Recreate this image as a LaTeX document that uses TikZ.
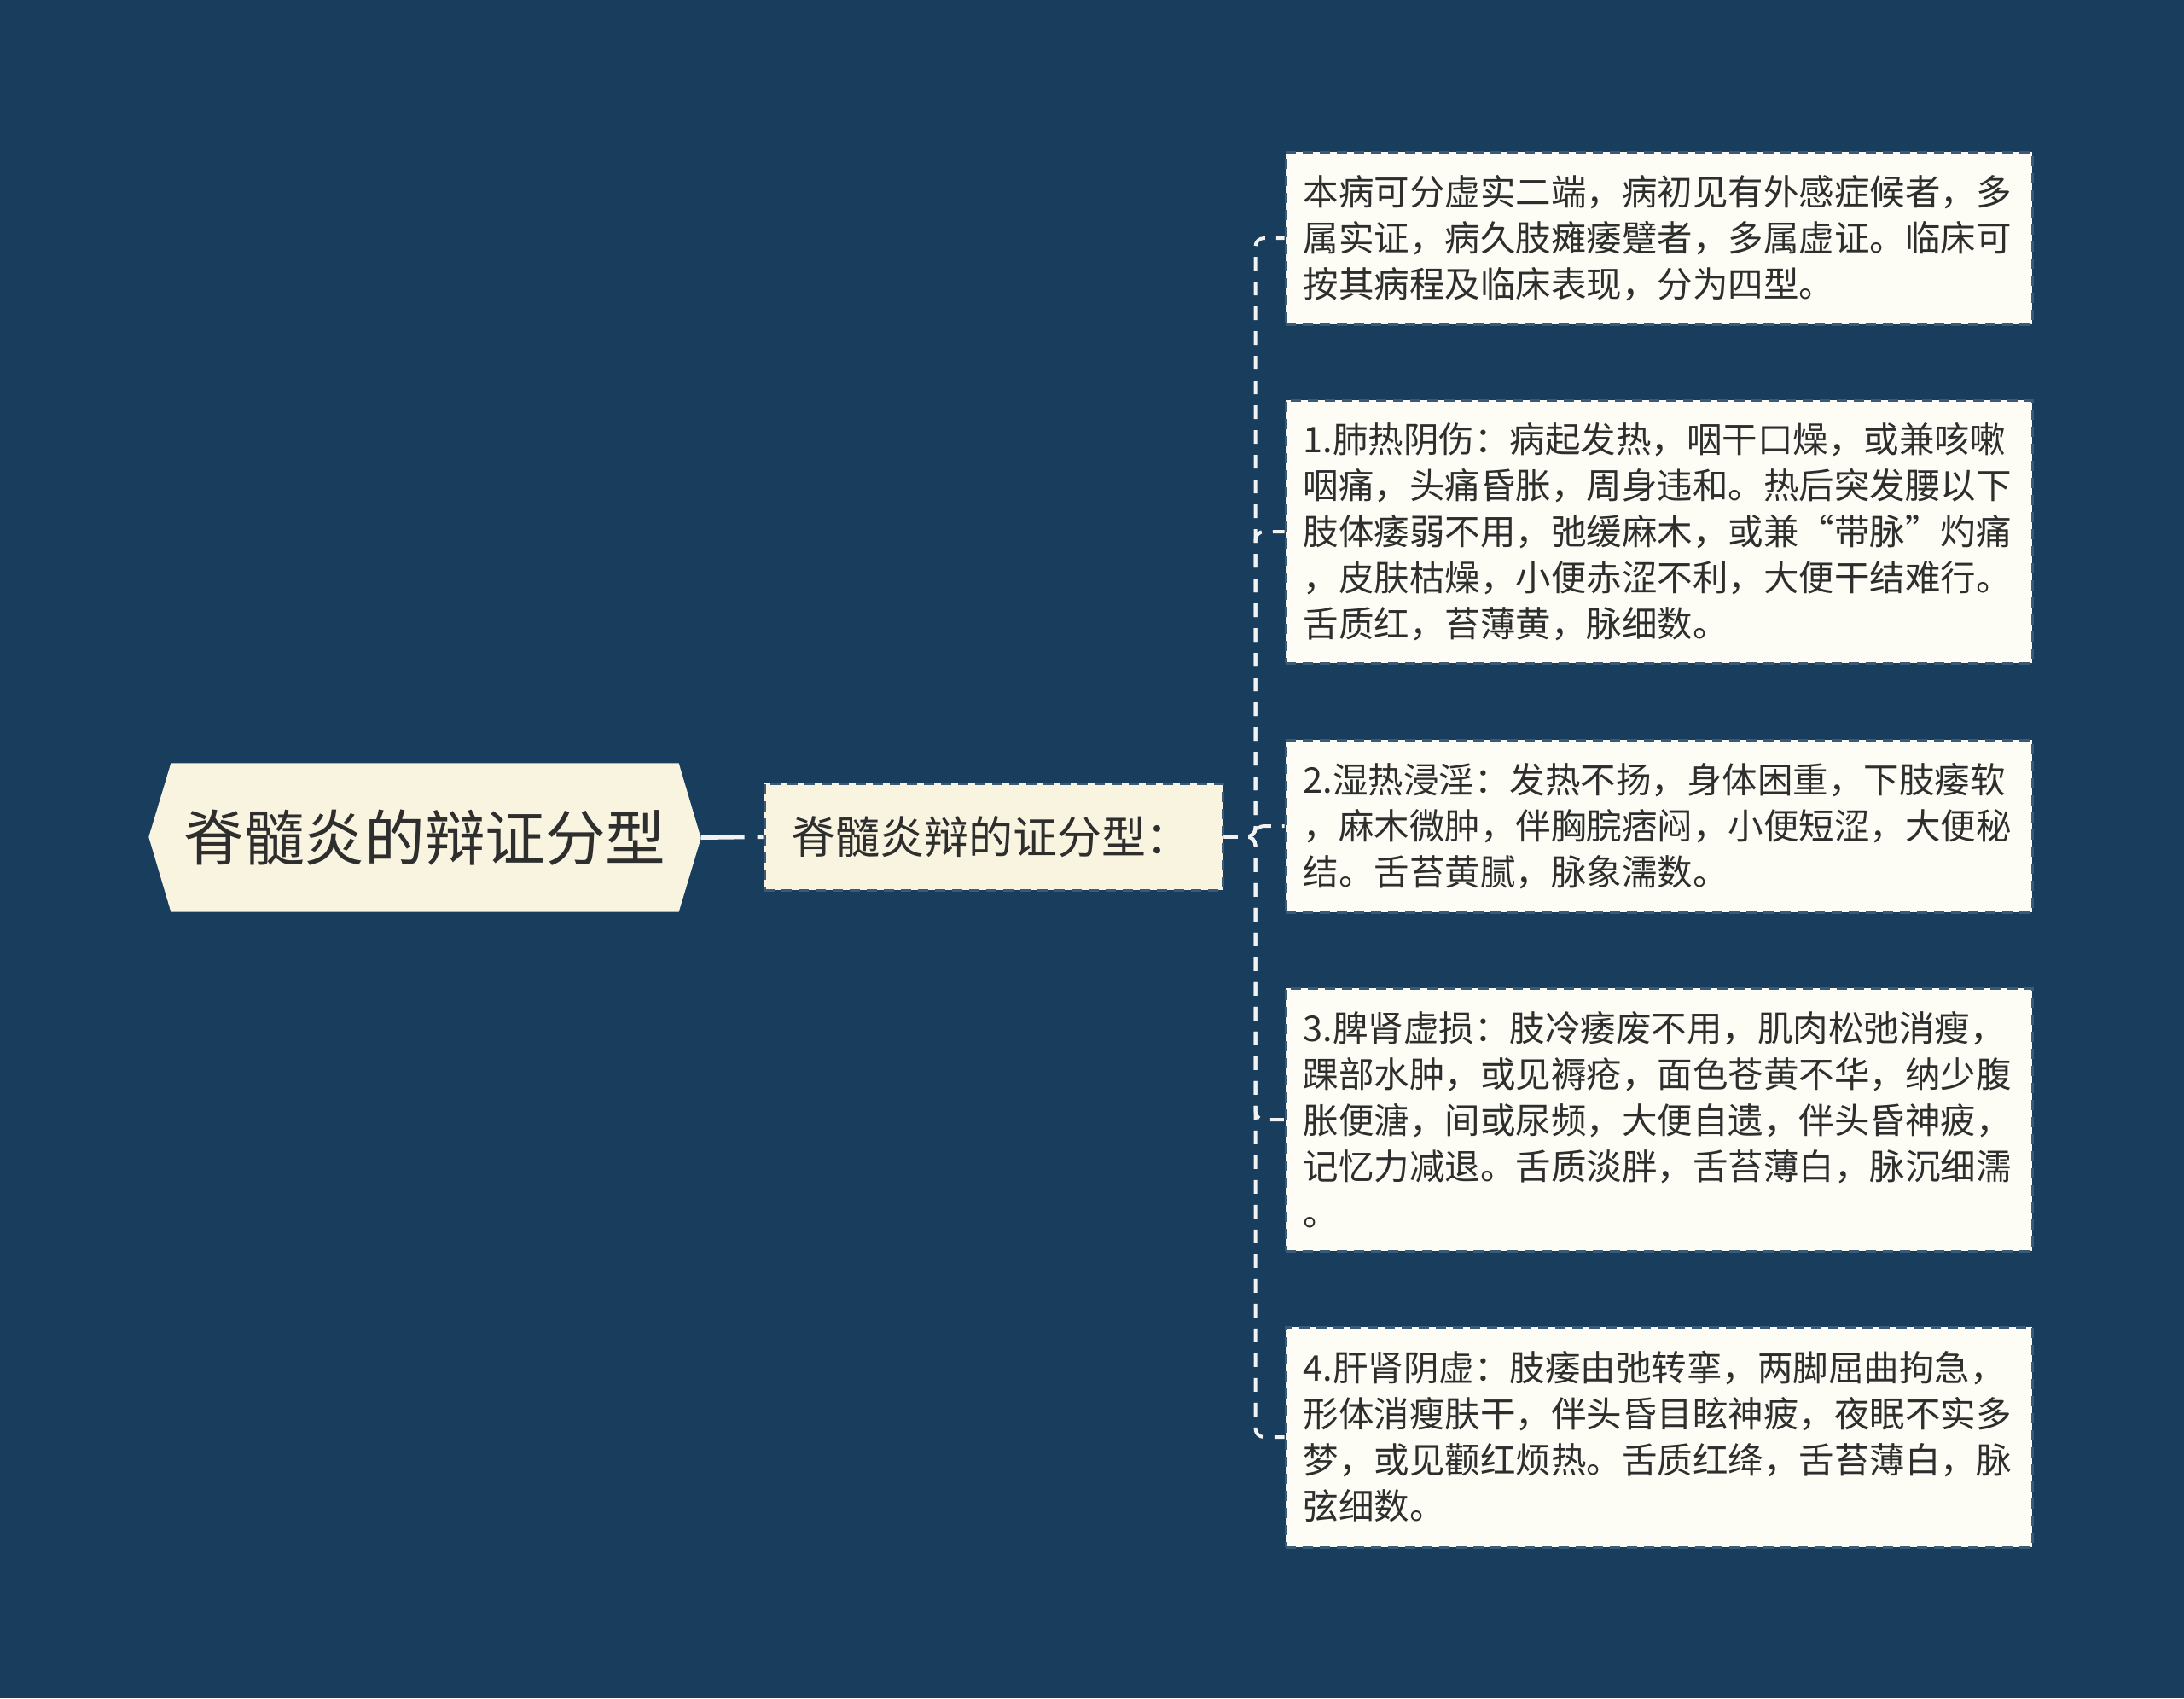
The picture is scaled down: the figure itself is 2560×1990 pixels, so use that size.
\documentclass[tikz,border=0pt]{standalone}
\usepackage{fontspec}
\setmainfont{Noto Sans CJK SC}
\usetikzlibrary{backgrounds}
\definecolor{bgnavy}{HTML}{183D5D}
\definecolor{rootfill}{HTML}{F8F4E0}
\definecolor{boxfill}{HTML}{FDFDF6}
\definecolor{linkgray}{HTML}{F2F2F2}
\definecolor{txtgray}{HTML}{2E2E2E}
\begin{document}
\begin{tikzpicture}[x=0.3pt,y=0.3pt,
  rootnode/.style={text=txtgray,minimum width=178.2pt,minimum height=51.9pt,inner sep=0pt,font=\fontsize{21.2pt}{25pt}\selectfont},
  midnode/.style={fill=rootfill,draw=bgnavy!85!white,dash pattern=on 3.6pt off 2.4pt,line width=0.9pt,text=txtgray,align=left,text width=142.5pt,inner xsep=9.3pt,minimum height=37.5pt,inner ysep=0pt,font=\fontsize{15.6pt}{19pt}\selectfont},
  textbox/.style={fill=boxfill,draw=bgnavy!85!white,dash pattern=on 3.6pt off 2.4pt,line width=0.9pt,text=txtgray,align=left,text width=250pt,inner xsep=6.25pt,inner ysep=0pt,font=\fontsize{12.45pt}{16.2pt}\selectfont},
  rootlink/.style={draw=linkgray,line width=1.5pt,dash pattern=on 15.3pt off 4.5pt},
  link/.style={draw=linkgray,line width=1.2pt,dash pattern=on 4.8pt off 3.9pt,rounded corners=3pt}]
\useasboundingbox (0,0) rectangle (2560,-1990);
\node [rootnode] (root) at (498,-981.5) {脊髓炎的辩证分型};
\begin{scope}[on background layer]
\fill [bgnavy] (0,0) rectangle (2560,-1990);
\fill [rootfill] (root.north west) -- ++(-26,-86.5) -- (root.south west) -- (root.south east) -- ++(26,86.5) -- (root.north east) -- cycle;
\end{scope}
\node [midnode] (mid) at (1164.5,-980.5) {脊髓炎辩的证分型：};
\draw [rootlink] (root.east) ++(26,0) -- (mid.west);
\node [textbox,minimum height=60.6pt] (t0) at (1944.5,-279) {本病可分虚实二端，病初见有外感症候者，多\\属实证，病久肢瘫痿躄者，多属虚证。临床可\\按其病程及临床表现，分为四型。};
\node [textbox,minimum height=92.4pt] (t1) at (1944.5,-623) {1.肺热阴伤：病起发热，咽干口燥，或兼咳嗽\\咽痛，头痛昏胀，周身违和。热后突发腰以下\\肢体痿弱不用，弛缓麻木，或兼“带脉”灼痛\\，皮肤枯燥，小便赤涩不利，大便干结难行。\\舌质红，苔薄黄，脉细数。};
\node [textbox,minimum height=60.6pt] (t2) at (1944.5,-968) {2.湿热浸淫：发热不扬，身体困重，下肢痿软\\，麻木微肿，伴胸脘痞闷，小便短涩，大便秘\\结。舌苔黄腻，脉象濡数。};
\node [textbox,minimum height=92.4pt] (t3) at (1944.5,-1312) {3.脾肾虚损：肢冷痿废不用，肌肉松弛消瘦，\\踝部水肿，或见褥疮，面色苍黄不华，纳少腹\\胀便溏，间或尿频，大便自遗，伴头昏神疲，\\记忆力减退。舌质淡胖，舌苔薄白，脉沉细濡\\。};
\node [textbox,minimum height=77.4pt] (t4) at (1944.5,-1684) {4.肝肾阴虚：肢痿由弛转挛，两脚屈曲拘急，\\形体消瘦肤干，伴头昏目眩神疲，夜眠不实多\\梦，或见颧红烦热。舌质红绛，舌苔薄白，脉\\弦细数。};
\foreach \t in {t0,t1,t2,t3,t4}
  \draw [link] (mid.east) -- ++(37,0) |- (\t.west);
\end{tikzpicture}
\end{document}
